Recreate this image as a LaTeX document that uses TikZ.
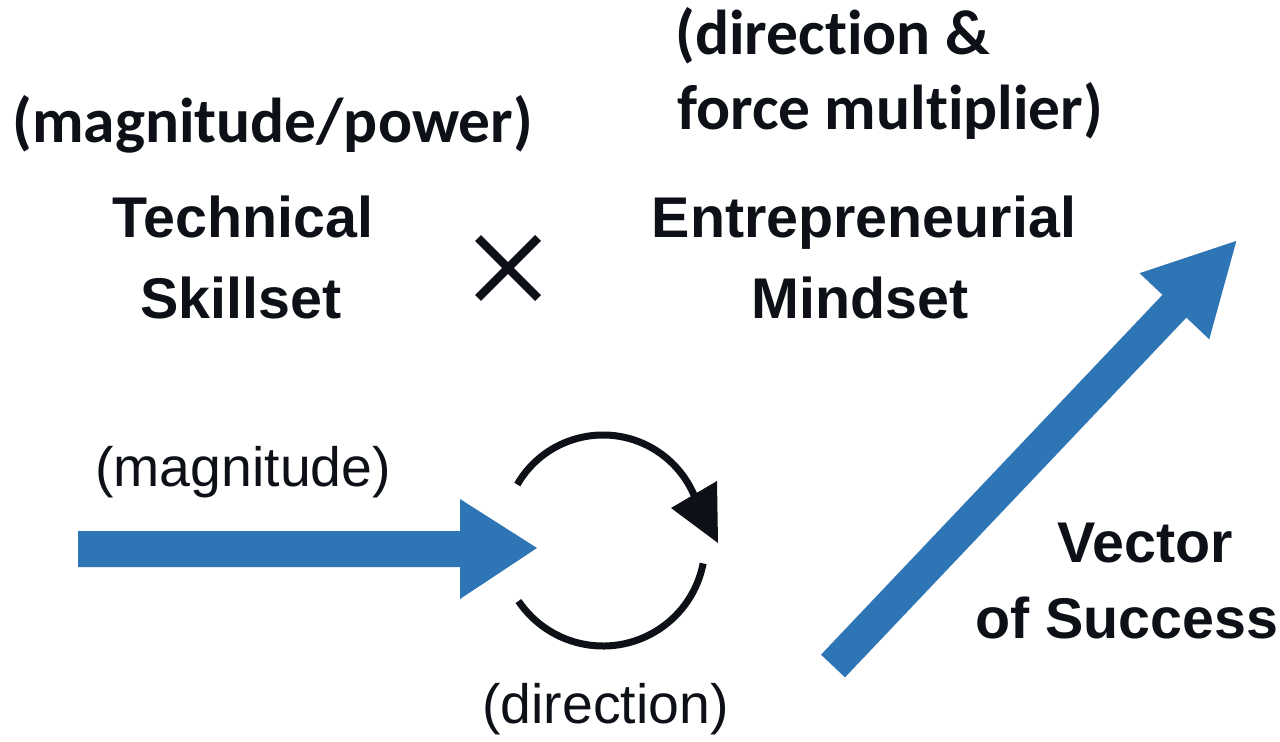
\documentclass[tikz,border=0pt]{standalone}
\usepackage{fontspec}
\usetikzlibrary{calc}
\setmainfont{Liberation Sans}
\newfontfamily\calibrifont[Ligatures=NoCommon]{Carlito}
\newfontfamily\helvfont{Liberation Sans}
\definecolor{vblue}{HTML}{2E75B6}
\definecolor{ink}{HTML}{0D1117}
\begin{document}
\begin{tikzpicture}[x=0.5pt,y=0.5pt,
  note/.style={inner sep=0pt,text=ink,font=\calibrifont\bfseries\fontsize{31.7}{37}\selectfont},
  title/.style={inner sep=0pt,text=ink,font=\helvfont\bfseries\fontsize{28.7}{34}\selectfont},
  small/.style={inner sep=0pt,text=ink,font=\helvfont\fontsize{27.7}{33}\selectfont},
  blockarrow/.style={fill=vblue,draw=none},
  cyc/.style={draw=ink,line width=3.5pt,line cap=butt}]
\useasboundingbox (0,0) rectangle (1280,741);
\fill[white] (0,0) rectangle (1280,741);

% labels
\node[note,anchor=base west] (mp) at (12,599) {(magnitude/power)};
\node[note,anchor=base west] (df1) at (675,686) {(direction \&};
\node[note,anchor=base west] (df2) at (677,611) {force multiplier)};

\node[title,anchor=base] (tech) at (243,504) {Technical};
\node[title,anchor=base] (skill) at (241,423) {Skillset};
\node[title,anchor=base] (entre) at (864,504) {Entrepreneurial};
\node[title,anchor=base] (mind) at (860,423) {Mindset};
\node[title,anchor=base] (vec) at (1145,179) {Vector};
\node[title,anchor=base west] (succ) at (975,103) {of Success};

\node[small,anchor=base west] (mag) at (95,255) {(magnitude)};
\node[small,anchor=base west] (dir) at (482,18) {(direction)};

% times sign
\coordinate (times) at (508,473);
\draw[ink,line width=4.2pt] ($(times)+(-30,30)$) -- ($(times)+(30,-30)$);
\draw[ink,line width=4.2pt] ($(times)+(30,30)$) -- ($(times)+(-30,-30)$);

% horizontal block arrow
\coordinate (hstart) at (78,192);
\fill[blockarrow] (78,210) -- (460,210) -- (460,242) -- (537,193) -- (460,142) -- (460,174) -- (78,174) -- cycle;

% cycle arrows
\coordinate (ctop) at (603,207);
\coordinate (cbot) at (603,197);
\draw[cyc] ($(ctop)+(150:99)$) arc[start angle=150,end angle=19,radius=99];
\fill[ink] (671,233) -- (717,260) -- (718,198) -- cycle;
\draw[cyc] ($(cbot)+(-11:102)$) arc[start angle=-11,end angle=-146,radius=102];

% diagonal block arrow
\begin{scope}[shift={(833,75)},rotate=46.5]
\fill[blockarrow] (0,-16.5) -- (496,-16.5) -- (496,-48) -- (586,0) -- (496,48) -- (496,16.5) -- (0,16.5) -- cycle;
\end{scope}
\end{tikzpicture}
\end{document}
